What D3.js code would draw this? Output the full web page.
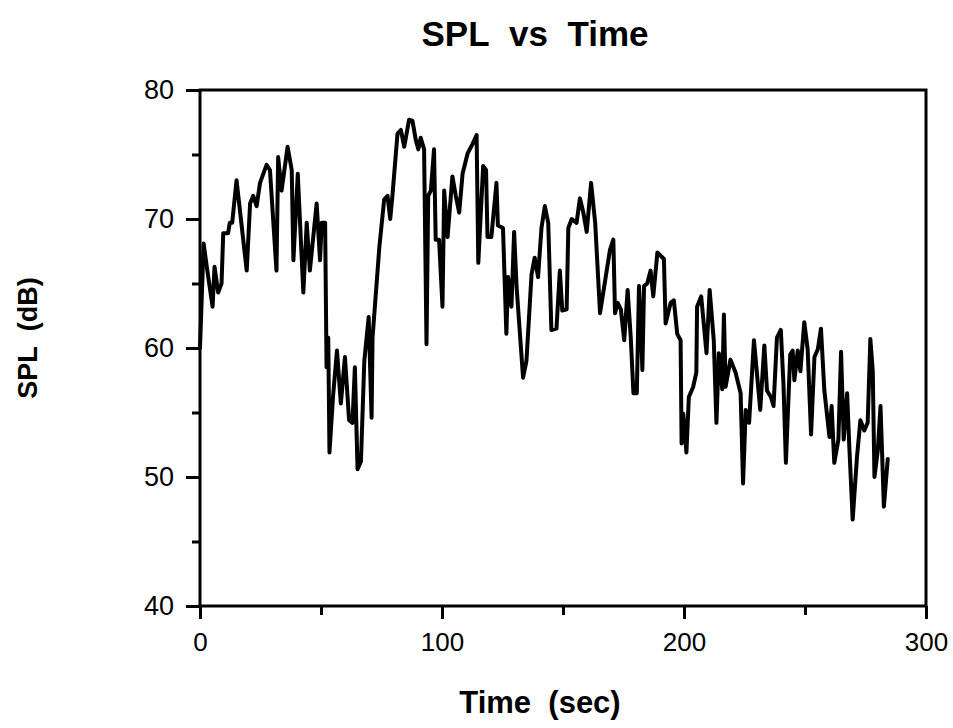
<!DOCTYPE html>
<html>
<head>
<meta charset="utf-8">
<script src="https://cdn.jsdelivr.net/npm/d3@7/dist/d3.min.js"></script>
<style>
  html, body { margin: 0; padding: 0; background: #fff; }
  svg { display: block; }
</style>
</head>
<body>
<svg id="chart" width="953" height="728"></svg>
<script>
const titleText = "SPL\u00a0\u00a0vs\u00a0\u00a0Time";
const xTitle = "Time\u00a0\u00a0(sec)";
const yTitle = "SPL\u00a0\u00a0(dB)";
const xMajorTicks = [0, 100, 200, 300];
const xMinorTicks = [50, 150, 250];
const yMajorTicks = [40, 50, 60, 70, 80];
const yMinorTicks = [45, 55, 65, 75];

const timeSec = [
  0, 1.5, 2.8, 5.2, 6.0, 7.5, 8.9, 9.6, 11.6, 12.3, 13.3, 15.1, 19.3, 20.7, 22.0, 23.4, 24.8, 27.5, 28.9,
  31.6, 32.3, 33.7, 36.2, 37.9, 38.6, 40.4, 42.7, 44.1, 45.4, 48.2, 49.6, 50.3, 51.7, 52.3, 53.0, 53.5,
  55.0, 56.6, 58.2, 59.9, 61.6, 63.0, 64.0, 65.1, 66.5, 67.9, 69.7, 70.9, 71.3, 74.1, 76.1, 77.5, 78.6,
  79.6, 81.6, 83.0, 84.4, 86.4, 87.8, 89.2, 90.2, 91.2, 92.6, 93.6, 94.3, 95.4, 96.7, 97.4, 98.8, 100.2,
  100.9, 102.3, 104.3, 105.7, 107.1, 108.5, 110.6, 112.6, 114.3, 115.0, 117.0, 118.2, 118.8, 120.4,
  122.5, 123.1, 125.2, 126.6, 127.3, 128.7, 129.8, 130.8, 133.5, 134.9, 137.0, 138.3, 139.7, 141.1,
  142.5, 143.9, 145.2, 147.3, 148.7, 149.7, 151.5, 152.2, 153.6, 155.6, 157.0, 158.4, 159.8, 161.6,
  163.3, 165.3, 167.4, 169.4, 170.8, 171.5, 172.6, 173.9, 175.3, 176.7, 178.0, 179.1, 180.5, 181.4,
  182.1, 182.8, 183.5, 184.8, 186.2, 187.3, 189.0, 191.7, 192.4, 194.5, 195.8, 197.2, 198.6, 199.0,
  199.7, 201.0, 202.0, 203.8, 205.1, 205.4, 207.1, 209.3, 210.6, 212.3, 213.4, 214.4, 215.8, 216.5,
  217.2, 219.2, 221.3, 223.4, 224.4, 225.5, 226.9, 228.9, 230.4, 231.5, 233.2, 234.3, 235.9, 237.0,
  238.4, 240.0, 241.1, 242.1, 243.9, 244.9, 245.6, 247.0, 248.1, 249.7, 251.1, 252.5, 253.9, 255.3,
  256.6, 258.0, 260.1, 261.0, 262.1, 263.8, 264.9, 266.0, 267.4, 268.3, 269.7, 271.5, 272.9, 274.5,
  275.9, 277.0, 278.0, 278.7, 280.1, 281.2, 282.6, 284.2
];
const splDb = [
  60.0, 68.1, 66.3, 63.2, 66.3, 64.3, 65.0, 68.9, 68.9, 69.7, 69.7, 73.0, 66.0, 71.2, 71.8, 71.0, 72.8, 74.2, 73.8,
  66.0, 74.8, 72.2, 75.6, 73.8, 66.8, 73.5, 64.3, 69.7, 66.0, 71.2, 66.8, 69.7, 69.7, 58.5, 60.8, 51.9,
  56.3, 59.8, 55.7, 59.3, 54.4, 54.2, 58.5, 50.6, 51.2, 59.0, 62.4, 54.6, 60.8, 67.8, 71.5, 71.8, 70.0,
  72.0, 76.6, 76.9, 75.6, 77.7, 77.6, 76.1, 75.4, 76.3, 75.4, 60.3, 71.8, 72.2, 75.4, 68.4, 68.4, 63.2,
  72.2, 68.6, 73.3, 71.8, 70.5, 73.5, 75.1, 75.8, 76.5, 66.6, 74.1, 73.8, 68.6, 68.6,
  72.8, 69.5, 69.3, 61.1, 65.5, 63.2, 69.0, 64.8, 57.7, 59.0, 65.7, 67.0, 65.5, 69.3,
  71.0, 69.7, 61.4, 61.5, 66.0, 62.9, 63.0, 69.3, 70.0, 69.7, 71.6, 70.5, 69.0, 72.8,
  69.7, 62.7, 65.2, 67.6, 68.4, 62.7, 63.5, 63.0, 60.6, 64.5, 60.8, 56.5, 56.5, 64.8,
  62.0, 58.3, 64.8, 65.0, 66.0, 64.0, 67.4, 66.9, 61.9, 63.5, 63.7, 61.1, 60.6, 52.6,
  54.9, 51.9, 56.2, 57.0, 58.1, 63.2, 64.0, 59.6, 64.5, 60.6, 54.2, 59.6, 56.8, 62.6,
  57.0, 59.1, 58.1, 56.5, 49.5, 55.2, 54.2, 60.6, 57.5, 55.2, 60.2, 56.7, 56.2, 55.5,
  60.8, 61.4, 57.2, 51.1, 59.5, 59.8, 57.5, 59.8, 58.2, 62.0, 59.9, 53.3, 59.3, 59.9,
  61.5, 56.7, 53.1, 55.5, 51.1, 52.9, 59.7, 52.9, 56.5, 52.4, 46.7, 51.6, 54.4, 53.6,
  54.2, 60.7, 58.2, 50.0, 52.1, 55.5, 47.7, 51.4
];

(function () {
const svg = d3.select("#chart");
const mLeft = 200, mRight = 926, mTop = 90, mBottom = 606;

const x = d3.scaleLinear().domain([0, 300]).range([mLeft, mRight]);
const y = d3.scaleLinear().domain([40, 80]).range([mBottom, mTop]);

const font = "'Liberation Sans', Arial, Helvetica, sans-serif";

// Frame
svg.append("rect")
  .attr("x", mLeft).attr("y", mTop)
  .attr("width", mRight - mLeft).attr("height", mBottom - mTop)
  .attr("fill", "none").attr("stroke", "#000").attr("stroke-width", 3);

// X axis
const xAxisMajor = d3.axisBottom(x).tickValues(xMajorTicks).tickSize(13).tickPadding(14).tickFormat(d3.format("d"));
const gx = svg.append("g").attr("transform", `translate(0,${mBottom})`).call(xAxisMajor);
gx.select(".domain").remove();
gx.selectAll("line").attr("stroke", "#000").attr("stroke-width", 3);
gx.selectAll("text").attr("font-family", font).attr("font-size", 26).attr("fill", "#000");

const xAxisMinor = d3.axisBottom(x).tickValues(xMinorTicks).tickSize(9).tickFormat("");
const gxm = svg.append("g").attr("transform", `translate(0,${mBottom})`).call(xAxisMinor);
gxm.select(".domain").remove();
gxm.selectAll("line").attr("stroke", "#000").attr("stroke-width", 3);

// Y axis
const yAxisMajor = d3.axisLeft(y).tickValues(yMajorTicks).tickSize(14).tickPadding(12).tickFormat(d3.format("d"));
const gy = svg.append("g").attr("transform", `translate(${mLeft},0)`).call(yAxisMajor);
gy.select(".domain").remove();
gy.selectAll("line").attr("stroke", "#000").attr("stroke-width", 3);
gy.selectAll("text").attr("font-family", font).attr("font-size", 27).attr("fill", "#000");

const yAxisMinor = d3.axisLeft(y).tickValues(yMinorTicks).tickSize(8).tickFormat("");
const gym = svg.append("g").attr("transform", `translate(${mLeft},0)`).call(yAxisMinor);
gym.select(".domain").remove();
gym.selectAll("line").attr("stroke", "#000").attr("stroke-width", 3);

// Data line
const pts = timeSec.map((t, i) => [t, splDb[i]]);
const line = d3.line().x(d => x(d[0])).y(d => y(d[1]));
svg.append("path")
  .datum(pts)
  .attr("d", line)
  .attr("fill", "none")
  .attr("stroke", "#000")
  .attr("stroke-width", 4)
  .attr("stroke-linejoin", "round")
  .attr("stroke-linecap", "round");

// Titles
svg.append("text")
  .attr("x", 535).attr("y", 46)
  .attr("text-anchor", "middle")
  .attr("font-family", font).attr("font-weight", "bold").attr("font-size", 35)
  .text(titleText);

svg.append("text")
  .attr("x", 540).attr("y", 713)
  .attr("text-anchor", "middle")
  .attr("font-family", font).attr("font-weight", "bold").attr("font-size", 31)
  .text(xTitle);

svg.append("text")
  .attr("transform", "translate(37,338) rotate(-90)")
  .attr("text-anchor", "middle")
  .attr("font-family", font).attr("font-weight", "bold").attr("font-size", 27)
  .text(yTitle);
})();
</script>
</body>
</html>
